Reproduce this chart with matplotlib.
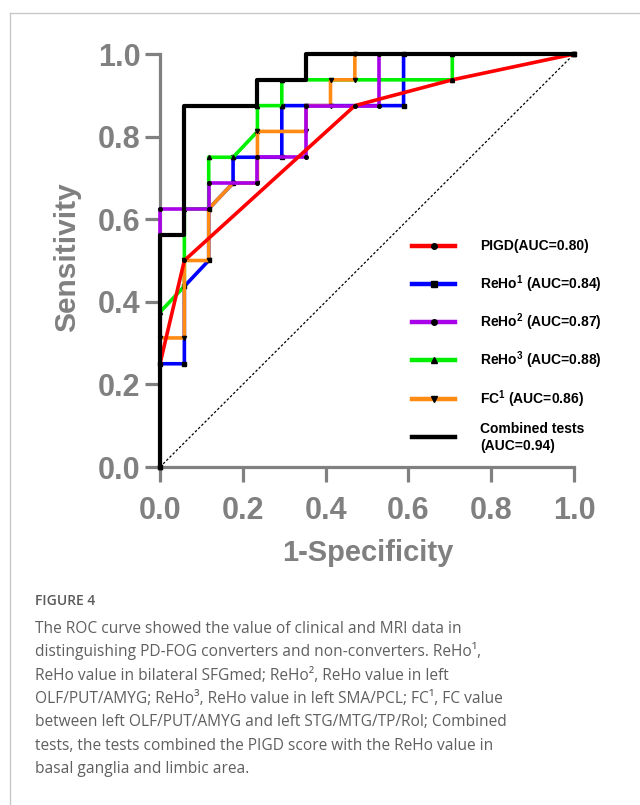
import matplotlib
matplotlib.use('Agg')
import matplotlib.pyplot as plt
from matplotlib.lines import Line2D

# ROC vertices (17 non-converters, 16 converters)
pigd_fpr = [0, 0, 1/17, 8/17, 12/17, 1]
pigd_tpr = [0, 0.25, 0.5, 0.875, 0.9375, 1]

reho1_fpr = [0, 0, 1/17, 1/17, 2/17, 2/17, 3/17, 3/17, 5/17, 5/17, 10/17, 10/17, 1]
reho1_tpr = [0, 0.25, 0.25, 0.4375, 0.5, 0.625, 0.6875, 0.75, 0.75, 0.875, 0.875, 1, 1]

reho2_fpr = [0, 0, 2/17, 2/17, 4/17, 4/17, 6/17, 6/17, 9/17, 9/17, 1]
reho2_tpr = [0, 0.625, 0.625, 0.6875, 0.6875, 0.75, 0.75, 0.875, 0.875, 1, 1]

reho3_fpr = [0, 0, 1/17, 1/17, 2/17, 2/17, 3/17, 4/17, 4/17, 5/17, 5/17, 12/17, 12/17, 1]
reho3_tpr = [0, 0.375, 0.4375, 0.625, 0.625, 0.75, 0.75, 0.8125, 0.875, 0.875, 0.9375, 0.9375, 1, 1]

fc1_fpr = [0, 0, 1/17, 1/17, 2/17, 2/17, 3/17, 4/17, 4/17, 6/17, 6/17, 7/17, 7/17, 8/17, 8/17, 1]
fc1_tpr = [0, 0.3125, 0.3125, 0.5, 0.5, 0.625, 0.6875, 0.6875, 0.8125, 0.8125, 0.875, 0.875, 0.9375, 0.9375, 1, 1]

comb_fpr = [0, 0, 1/17, 1/17, 4/17, 4/17, 6/17, 6/17, 1]
comb_tpr = [0, 0.5625, 0.5625, 0.875, 0.875, 0.9375, 0.9375, 1, 1]

labels = ['PIGD(AUC=0.80)', r'ReHo$^{\mathbf{1}}$ (AUC=0.84)', r'ReHo$^{\mathbf{2}}$ (AUC=0.87)',
          r'ReHo$^{\mathbf{3}}$ (AUC=0.88)', r'FC$^{\mathbf{1}}$ (AUC=0.86)', 'Combined tests\n(AUC=0.94)']

caption = [
    "The ROC curve showed the value of clinical and MRI data in",
    "distinguishing PD-FOG converters and non-converters. ReHo¹,",
    "ReHo value in bilateral SFGmed; ReHo², ReHo value in left",
    "OLF/PUT/AMYG; ReHo³, ReHo value in left SMA/PCL; FC¹, FC value",
    "between left OLF/PUT/AMYG and left STG/MTG/TP/Rol; Combined",
    "tests, the tests combined the PIGD score with the ReHo value in",
    "basal ganglia and limbic area.",
]

plt.rcParams['font.family'] = ['Liberation Sans', 'DejaVu Sans']
plt.rcParams['mathtext.fontset'] = 'custom'
plt.rcParams['mathtext.bf'] = 'Liberation Sans:bold'
plt.rcParams['mathtext.rm'] = 'Liberation Sans:bold'
grey = '#808080'

fig = plt.figure(figsize=(6.4, 8.05), dpi=100)
ax = fig.add_axes([0.25, 1 - 467/805, 0.647, 413/805])

ax.plot([0, 1], [0, 1], color='black', lw=0.9, ls=(0, (2, 1.6)), zorder=2.6, clip_on=False)

lw = 2.6
styles = [  # (x, y, colour, marker, marker size, zorder)
    (reho1_fpr, reho1_tpr, '#0000FF', 's', 2.6, 3.0),
    (reho3_fpr, reho3_tpr, '#00F000', '^', 3.0, 3.1),
    (fc1_fpr, fc1_tpr, '#FF8A14', 'v', 3.0, 3.2),
    (reho2_fpr, reho2_tpr, '#A800E8', 'o', 2.6, 3.3),
    (pigd_fpr, pigd_tpr, '#FF0000', 'o', 2.6, 3.4),
]
for x, y, c, m, ms, z in styles:
    ax.plot(x, y, color=c, lw=lw, marker=m, ms=ms, mfc='black', mec='black', zorder=z, clip_on=False)
ax.plot(comb_fpr, comb_tpr, color='black', lw=3.0, zorder=3.5, clip_on=False)

ax.set_xlim(0, 1)
ax.set_ylim(0, 1)
ax.set_xticks([0, 0.2, 0.4, 0.6, 0.8, 1.0])
ax.set_yticks([0, 0.2, 0.4, 0.6, 0.8, 1.0])
ax.set_xticklabels(['0.0', '0.2', '0.4', '0.6', '0.8', '1.0'])
ax.set_yticklabels(['0.0', '0.2', '0.4', '0.6', '0.8', '1.0'])
for s in ['top', 'right']:
    ax.spines[s].set_visible(False)
for s in ['left', 'bottom']:
    ax.spines[s].set_color(grey)
    ax.spines[s].set_linewidth(2.3)
ax.tick_params(axis='both', colors=grey, length=11, width=2.3, labelsize=22)
ax.tick_params(axis='x', pad=10)
ax.tick_params(axis='y', pad=3)
for t in ax.get_xticklabels() + ax.get_yticklabels():
    t.set_fontweight('bold')

ax.set_xlabel('1-Specificity', fontsize=21, fontweight='bold', color=grey)
ax.set_ylabel('Sensitivity', fontsize=21.5, fontweight='bold', color=grey)
ax.xaxis.label.set_verticalalignment('center')
ax.yaxis.label.set_verticalalignment('center')
ax.xaxis.set_label_coords(0.502, -0.208)
ax.yaxis.set_label_coords(-0.225, 0.508)

# legend drawn entry by entry (Prism-like even spacing)
leg_items = [('#FF0000', 'o'), ('#0000FF', 's'), ('#A800E8', 'o'),
             ('#00F000', '^'), ('#FF8A14', 'v'), ('black', '')]
x0, x1, xt = 0.6087, 0.7126, 0.7729
y0, dy = 0.536, 0.0927
for i, ((c, m), lab) in enumerate(zip(leg_items, labels)):
    yy = y0 - i * dy
    ax.plot([x0, (x0 + x1) / 2, x1], [yy] * 3, transform=ax.transAxes, color=c, lw=3.2,
            marker=m or None, markevery=[1], ms=4, mfc='black', mec='black', clip_on=False, zorder=4)
    ax.text(xt, yy, lab, transform=ax.transAxes, fontsize=10, fontweight='bold',
            va='center', ha='left', linespacing=1.27)

# outer frame of the figure panel
fig.add_artist(Line2D([10/640, 10/640], [0, 1 - 13/805], color='#c8c8c8', lw=1))
fig.add_artist(Line2D([10/640, 1], [1 - 13/805, 1 - 13/805], color='#c8c8c8', lw=1))

fig.text(35/640, 1 - 605/805, 'FIGURE 4', family='Open Sans', fontweight='semibold',
         fontsize=10, color='#5a5a5a', va='baseline')
for i, line in enumerate(caption):
    fig.text(35/640, 1 - (633 + 23.3*i)/805, line, family='Open Sans', fontsize=11.2,
             color='#5f5f5f', va='baseline')

fig.savefig('out.png', dpi=100)
